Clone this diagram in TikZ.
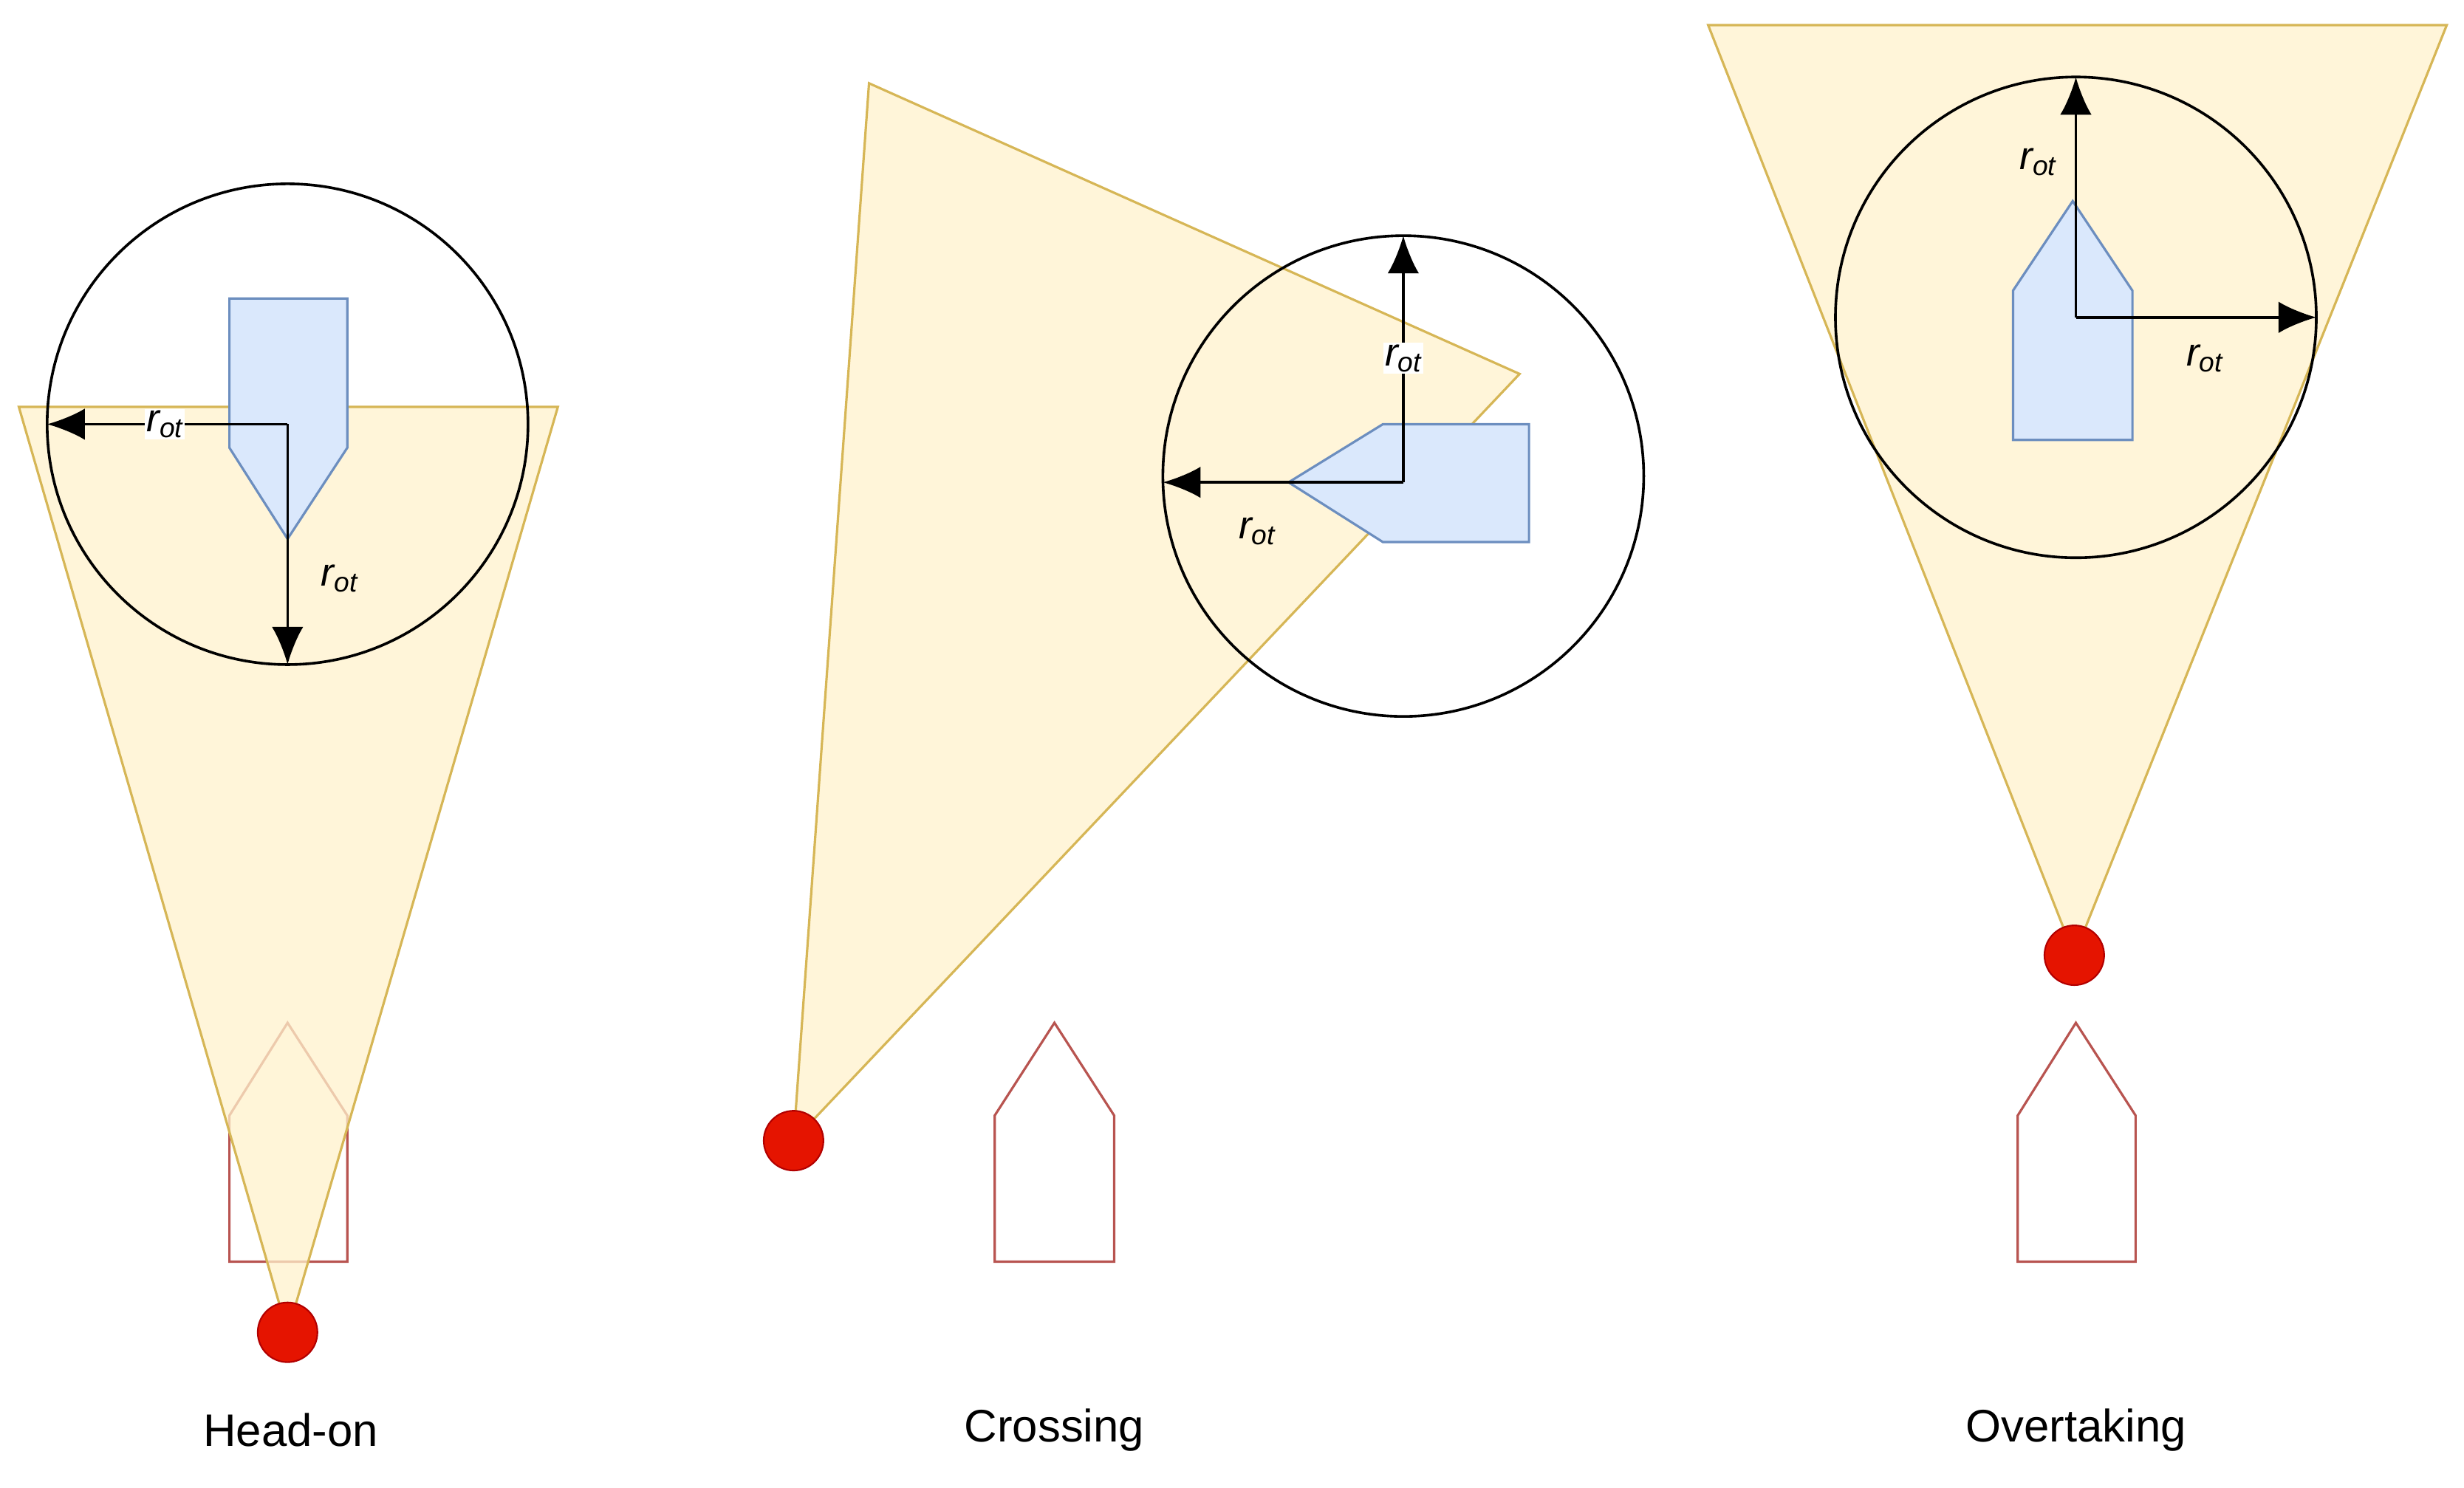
\documentclass[tikz,border=0pt]{standalone}
\usepackage{fontspec}
\setmainfont{Liberation Sans}
\usetikzlibrary{arrows.meta}
\definecolor{yfill}{HTML}{FFF2CC}\definecolor{ydraw}{HTML}{D6B656}
\definecolor{bfill}{HTML}{DAE8FC}\definecolor{bdraw}{HTML}{6C8EBF}
\definecolor{rdraw}{HTML}{B85450}\definecolor{dotf}{HTML}{E51400}\definecolor{dotd}{HTML}{B20000}
\begin{document}
\begin{tikzpicture}[x=1pt,y=-1pt,
  zone/.style={fill=yfill,draw=ydraw,line width=1.5pt,fill opacity=0.75},
  ring/.style={draw=black,line width=1.7pt},
  own/.style={fill=bfill,draw=bdraw,line width=1.5pt},
  tgt/.style={draw=rdraw,line width=1.5pt,fill=white},
  dot/.style={circle,fill=dotf,draw=dotd,line width=1pt,minimum size=38pt,inner sep=0pt},
  arr/.style={line width=1.7pt,-{Latex[length=24pt,width=20pt]}},
  lab/.style={font=\fontsize{25}{30}\selectfont\itshape,inner sep=1pt},
  title/.style={font=\fontsize{29}{34}\selectfont}]
\useasboundingbox (0,0) rectangle (1568,947);
% Head-on
\draw[tgt] (146,710)--(183,651)--(221,710)--(221,803)--(146,803)--cycle;
\draw[zone] (12,259)--(355,259)--(183,848)--cycle;
\node[dot] (d1) at (183,848) {};
\draw[ring] (183,270) circle (153);
\draw[own] (146,190)--(221,190)--(221,285)--(183,343)--(146,285)--cycle;
\coordinate (c1) at (183,270); \coordinate (c1l) at (30,270);
\coordinate (c1b) at (183,343); \coordinate (c1d) at (183,423);
\draw[arr] (c1)--(c1l);
\draw[arr] (c1b)--(c1d);
\draw[line width=1.7pt] (c1)--(c1b);
\node[lab,fill=white] (l1a) at (105,270) {r\textsubscript{ot}};
\node[lab] (l1b) at (216,368) {r\textsubscript{ot}};
\node[title] (t1) at (185,910) {Head-on};
% Crossing
\draw[tgt] (633,710)--(671,651)--(709,710)--(709,803)--(633,803)--cycle;
\draw[zone] (553,53)--(967,238)--(505,726)--cycle;
\node[dot] (d2) at (505,726) {};
\draw[ring] (893,303) circle (153);
\draw[own] (973,270)--(973,345)--(880,345)--(820,307)--(880,270)--cycle;
\coordinate (c2) at (893,307); \coordinate (c2u) at (893,150); \coordinate (c2l) at (740,307);
\draw[arr] (c2)--(c2u);
\draw[arr] (c2)--(c2l);
\node[lab,fill=white] (l2a) at (893,228) {r\textsubscript{ot}};
\node[lab] (l2b) at (800,338) {r\textsubscript{ot}};
\node[title] (t2) at (671,910) {Crossing};
% Overtaking
\draw[tgt] (1284,710)--(1321,651)--(1359,710)--(1359,803)--(1284,803)--cycle;
\draw[zone] (1087,16)--(1557,16)--(1320,608)--cycle;
\node[dot] (d3) at (1320,608) {};
\draw[ring] (1321,202) circle (153);
\draw[own] (1281,185)--(1319,128)--(1357,185)--(1357,280)--(1281,280)--cycle;
\coordinate (c3) at (1321,202); \coordinate (c3u) at (1321,49); \coordinate (c3r) at (1474,202);
\draw[arr] (c3)--(c3u);
\draw[arr] (c3)--(c3r);
\node[lab] (l3a) at (1297,103) {r\textsubscript{ot}};
\node[lab] (l3b) at (1403,228) {r\textsubscript{ot}};
\node[title] (t3) at (1321,910) {Overtaking};
\end{tikzpicture}
\end{document}
